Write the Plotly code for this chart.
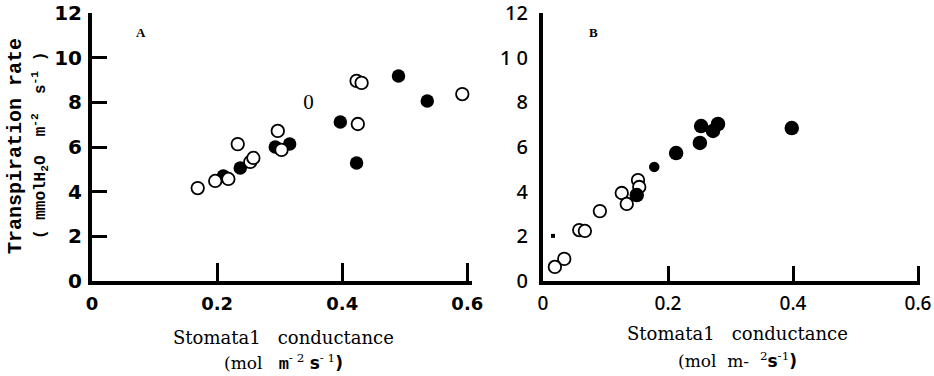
import plotly.graph_objects as go

# ---- Panel A data ----
a_open_x = [0.169, 0.197, 0.218, 0.233, 0.253, 0.258, 0.297, 0.303, 0.423, 0.431, 0.425, 0.592]
a_open_y = [4.16, 4.48, 4.57, 6.13, 5.33, 5.51, 6.72, 5.87, 8.96, 8.87, 7.03, 8.37]
a_fill_x = [0.210, 0.237, 0.293, 0.316, 0.397, 0.423, 0.490, 0.536]
a_fill_y = [4.70, 5.06, 6.00, 6.13, 7.12, 5.28, 9.18, 8.06]
a_text_x = [0.346]
a_text_y = [7.93]

# ---- Panel B data ----
b_open_x = [0.152, 0.154, 0.126, 0.134, 0.091, 0.058, 0.067, 0.034, 0.019]
b_open_y = [4.52, 4.21, 3.94, 3.45, 3.13, 2.28, 2.24, 0.99, 0.63]
b_fill_x = [0.253, 0.280, 0.272, 0.251, 0.213, 0.150, 0.398]
b_fill_y = [6.94, 7.03, 6.72, 6.18, 5.73, 3.85, 6.85]
b_small_x = [0.178]
b_small_y = [5.11]
b_dot_x = [0.016]
b_dot_y = [2.02]

x_ticks = [0, 0.2, 0.4, 0.6]
x_ticktext = ["0", "0.2", "0.4", "0.6"]
y_ticks = [0, 2, 4, 6, 8, 10, 12]
y_ticktext = ["0", "2", "4", "6", "8", "10", "12"]
b_y_ticktext = ["0", "2", "4", "6", "8", "1 0", "12"]

W, H = 934, 376

def fx(px):
    return px / W

def fy(py):
    return (H - py) / H

open_marker = dict(symbol="circle", size=12.5, color="white", line=dict(color="black", width=1.8))
fill_marker = dict(symbol="circle", size=13.5, color="black", line=dict(width=0))

fig = go.Figure()
# Panel A: filled first, open on top
fig.add_trace(go.Scatter(x=a_fill_x, y=a_fill_y, mode="markers", marker=fill_marker,
                         xaxis="x", yaxis="y", showlegend=False))
fig.add_trace(go.Scatter(x=a_open_x, y=a_open_y, mode="markers", marker=open_marker,
                         xaxis="x", yaxis="y", showlegend=False))
fig.add_trace(go.Scatter(x=a_text_x, y=a_text_y, mode="text", text=["0"],
                         textfont=dict(family="Liberation Serif", size=21, color="black"),
                         xaxis="x", yaxis="y", showlegend=False))
# Panel B: open first, filled on top
fig.add_trace(go.Scatter(x=b_open_x, y=b_open_y, mode="markers", marker=open_marker,
                         xaxis="x2", yaxis="y2", showlegend=False, cliponaxis=False))
fig.add_trace(go.Scatter(x=b_fill_x, y=b_fill_y, mode="markers",
                         marker=dict(symbol="circle", size=14.5, color="black"),
                         xaxis="x2", yaxis="y2", showlegend=False))
fig.add_trace(go.Scatter(x=b_small_x, y=b_small_y, mode="markers",
                         marker=dict(symbol="circle", size=10.5, color="black"),
                         xaxis="x2", yaxis="y2", showlegend=False))
fig.add_trace(go.Scatter(x=b_dot_x, y=b_dot_y, mode="markers",
                         marker=dict(symbol="square", size=4, color="black"),
                         xaxis="x2", yaxis="y2", showlegend=False))

axis_common = dict(showgrid=False, zeroline=False, showline=True, linecolor="black",
                   mirror=False, fixedrange=True, automargin=False, ticklabeloverflow="allow")

fig.update_layout(
    width=W, height=H,
    margin=dict(l=0, r=0, t=0, b=0, autoexpand=False),
    paper_bgcolor="white", plot_bgcolor="white",
    xaxis=dict(**axis_common, domain=[fx(92), fx(472)], range=[0, 0.6075],
               anchor="y", linewidth=4, tickvals=x_ticks, ticktext=x_ticktext,
               ticks="inside", ticklen=18, tickwidth=3, tickcolor="black",
               ticklabelstandoff=3,
               tickfont=dict(family="DejaVu Sans", size=18, color="black", weight="bold")),
    yaxis=dict(**axis_common, domain=[fy(281), fy(13)], range=[0, 12.0],
               anchor="x", linewidth=4, tickvals=y_ticks, ticktext=y_ticktext,
               ticks="inside", ticklen=15, tickwidth=3, tickcolor="black",
               ticklabelstandoff=2,
               tickfont=dict(family="DejaVu Sans", size=20, color="black", weight="bold")),
    xaxis2=dict(**axis_common, domain=[fx(543), fx(920)], range=[0, 0.6032],
                anchor="y2", linewidth=3.5, tickvals=x_ticks, ticktext=x_ticktext,
                ticks="inside", ticklen=15, tickwidth=3, tickcolor="black",
                ticklabelstandoff=2,
                tickfont=dict(family="Noto Sans", size=19, color="black", weight=500)),
    yaxis2=dict(**axis_common, domain=[fy(281), fy(13)], range=[0, 12.0],
                anchor="x2", linewidth=4, tickvals=y_ticks, ticktext=b_y_ticktext,
                ticks="", ticklabelstandoff=7,
                tickfont=dict(family="Noto Sans", size=20, color="black", weight=500)),
)

ann = []
def add(px, py, text, font, angle=0):
    ann.append(dict(x=fx(px), y=fy(py), xref="paper", yref="paper", text=text,
                    xanchor="center", yanchor="middle", textangle=angle,
                    showarrow=False, font=font))

# Panel letters
add(141, 32, "<b>A</b>", dict(family="Liberation Serif", size=13, color="black"))
add(593, 33, "<b>B</b>", dict(family="Liberation Serif", size=13, color="black"))
# Y title (panel A)
add(15, 146, "<b>Transpiration rate</b>", dict(family="Liberation Mono", size=20, color="black"), -90)
add(40, 146, "<b>( mmolH<sub>2</sub>O\u00a0 m<sup>-2</sup>\u00a0 s<sup>-1</sup> )</b>",
    dict(family="Liberation Mono", size=16, color="black"), -90)
# X titles
for cx, y1, y2, unit in [
    (283, 337, 362, "(mol\u00a0\u00a0 <b><span style='font-family:Liberation Mono'>m</span></b><sup>- 2</sup> <b><span style='font-family:DejaVu Sans'>s</span></b><sup>- 1</sup><b><span style='font-family:DejaVu Sans'>)</span></b>"),
    (737, 333, 360, "(mol\u00a0 m-\u00a0 <sup>2</sup><b><span style='font-family:DejaVu Sans'>s</span></b><sup>-1</sup><b><span style='font-family:DejaVu Sans'>)</span></b>"),
]:
    add(cx, y1, "Stomata1\u00a0\u00a0 conductance", dict(family="DejaVu Serif", size=18, color="black"))
    add(cx, y2, unit, dict(family="DejaVu Serif", size=17, color="black"))
fig.update_layout(annotations=ann)

fig.write_html("out.html", config={"displayModeBar": False},
               post_script="document.body.style.margin='0';document.body.style.padding='0';document.body.style.overflow='hidden';")
